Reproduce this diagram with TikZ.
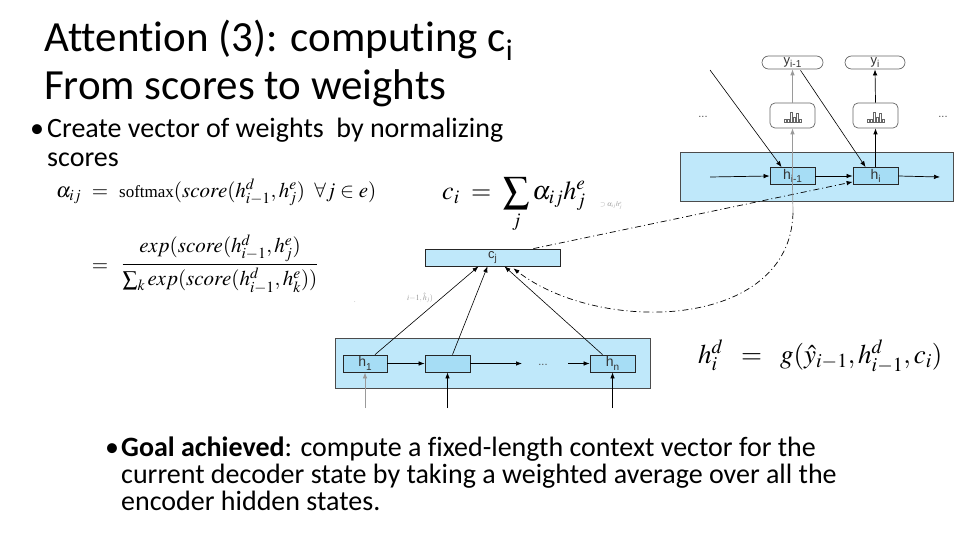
\documentclass[tikz,border=0pt]{standalone}
\usepackage{mathptmx}
\usepackage[no-math]{fontspec}
\setmainfont{Carlito}[Ligatures=NoCommon]
\newfontfamily\diagfont{Liberation Sans}
\newfontfamily\timesfont{Liberation Serif}
\usetikzlibrary{arrows.meta,calc}
\definecolor{bandfill}{HTML}{BFE8FA}
\definecolor{boxfill}{HTML}{A6DDF5}
\definecolor{lgray}{HTML}{9A9A9A}
\newcommand{\dsub}[1]{\raisebox{-3.5pt}{\fontsize{10}{10}\selectfont #1}}
\tikzset{
  txt/.style={inner sep=0pt, anchor=base west},
  title/.style={txt, font=\fontsize{43}{43}\selectfont},
  bul/.style={txt, font=\fontsize{28}{28}\selectfont},
  band/.style={draw=black!70, fill=bandfill, line width=0.6pt, inner sep=0pt},
  hbox/.style={draw=black!85, fill=boxfill, line width=0.8pt, inner sep=0pt, minimum height=17pt, font=\diagfont\fontsize{14}{14}\selectfont, text=black!80},
  smx/.style={draw=black!60, fill=white, rounded corners=5pt, line width=0.7pt, minimum width=45pt, minimum height=25pt, inner sep=0pt},
  ybox/.style={draw=black!60, fill=white, rounded corners=6.5pt, line width=0.7pt, minimum height=13pt, inner sep=0pt, font=\diagfont\fontsize{13}{13}\selectfont, text=black!80},
  arr/.style={-{Latex[length=6pt,width=4.5pt]}, line width=0.7pt},
  garr/.style={arr, draw=lgray},
  dashdot/.style={line width=0.7pt, dash pattern=on 6pt off 3pt on 1pt off 3pt},
  eqn/.style={inner sep=0pt},
  dots/.style={inner sep=0pt, font=\diagfont\fontsize{11}{11}\selectfont, text=black!70}
}
\begin{document}
\begin{tikzpicture}[x=1pt,y=-1pt]
\useasboundingbox (0,0) rectangle (960,540);

% ---- titles and bullets ----
\node[title] (t1) at (44,52) {Attention (3): computing c\raisebox{-9pt}{\fontsize{30}{30}\selectfont i}};
\node[title] (t2) at (44,100) {From scores to weights};
\node[bul] (bd1) at (30,138) {•};
\node[bul] (b1a) at (47,138) {Create vector of weights\ \ by normalizing};
\node[bul] (b1b) at (47,167) {scores};

\node[bul] (bd2) at (105,456) {•};
\node[bul] (b2a) at (121,456) {\textbf{Goal achieved}: compute a fixed-length context vector for the};
\node[bul] (b2b) at (121,483) {current decoder state by taking a weighted average over all the};
\node[bul] (b2c) at (121,510) {encoder hidden states.};

% ---- formulas ----
\node[eqn, anchor=base west] (alpha) at (56,197) {\fontsize{21}{21}\selectfont$\alpha_{ij}$};
\node[eqn, anchor=base] (eq1) at (100,197) {\fontsize{21}{21}\selectfont$=$};
\node[eqn, anchor=base west] (rhs1) at (119,197) {\fontsize{21}{21}\selectfont$\mbox{\timesfont\fontsize{17}{17}\selectfont softmax}(score(h^d_{i-1},h^e_j)\;\;\forall j\in e)$};
\node[eqn, anchor=base] (eq2) at (100,271) {\fontsize{21}{21}\selectfont$=$};
\node[eqn] (frac) at (220,264) {\fontsize{21}{21}\selectfont$\displaystyle\frac{exp(score(h^d_{i-1},h^e_j)}{\sum_k exp(score(h^d_{i-1},h^e_k))}$};

\node[eqn, anchor=west] (cieq) at (442,205) {\fontsize{26}{26}\selectfont$\displaystyle c_i\;=\;\sum_j\alpha_{ij}h^e_j$};
\node[eqn, anchor=west, text=lgray] (rem1) at (600,206) {\fontsize{7}{7}\selectfont$\supset\alpha_{ij}h^e_j$};

\node[eqn, anchor=base west] (hdeq) at (698,363) {\fontsize{27}{27}\selectfont$h^d_i\;\;=\;\;g(\hat{y}_{i-1},h^d_{i-1},c_i)$};

% ---- decoder ----
\node[band, minimum width=273pt, minimum height=49pt] (dec) at (816.5,176.5) {};
\node[hbox, minimum width=45pt] (hprev) at (792.5,176) {h\dsub{i-1}};
\node[hbox, minimum width=45pt] (hcur) at (875.5,176) {h\dsub{i}};
\node[smx] (s1) at (792.5,115.5) {};
\node[smx] (s2) at (875.5,115.5) {};
\node[ybox, minimum width=61pt] (y1) at (792.5,62.5) {y\dsub{i-1}};
\node[ybox, minimum width=60pt] (y2) at (875,62.5) {y\dsub{i}};
\foreach \s in {s1,s2}{
  \foreach \dx/\h in {-8/3,-5/3,-2/10,1/5,4/9,7/3}{
    \draw[black!60, line width=0.4pt] ($(\s.center)+(\dx,7)$) rectangle ++(2,-\h);
  }
}
\node[dots] (dl) at (703,117) {...};
\node[dots] (dr) at (943,117) {...};
\coordinate (din) at (710,177);
\coordinate (dout) at (940,177);
\draw[arr] (din) -- (hprev.west);
\draw[arr] (hprev.east) -- (hcur.west);
\draw[arr] (hcur.east) -- (dout);
\draw[garr] (hprev.north) -- (s1.south);
\draw[garr] (s1.north) -- (y1.south);
\draw[arr] (hcur.north) -- (s2.south);
\draw[arr] (s2.north) -- (y2.south);
\draw[lgray, line width=0.7pt] (hprev.north) -- (hprev.south);
\coordinate (ctop) at (710,70);
\draw[arr, line width=0.6pt] (ctop) -- ($(hprev.north west)+(12,0)$);
\draw[arr, line width=0.6pt] ($(y1.south)+(8,1)$) -- ($(hcur.north west)+(13,0)$);

% ---- encoder ----
\node[band, minimum width=315pt, minimum height=50pt] (enc) at (492.5,363) {};
\node[hbox, minimum width=44pt] (e1) at (365,363.5) {h\dsub{1}};
\node[hbox, minimum width=45pt] (e2) at (447.5,363.5) {};
\node[hbox, minimum width=45pt] (en) at (612.5,363.5) {h\dsub{n}};
\node[dots] (ed) at (543,365) {...};
\coordinate (ea) at (522,363.5);
\coordinate (eb) at (568,363.5);
\draw[arr] (e1.east) -- (e2.west);
\draw[arr] (e2.east) -- (ea);
\draw[arr] (eb) -- (en.west);
\coordinate (i1) at (365,408);
\coordinate (i2) at (447.5,408);
\coordinate (i3) at (612.5,408);
\draw[garr] (i1) -- (e1.south);
\draw[arr] (i2) -- (e2.south);
\draw[arr] (i3) -- (en.south);

% ---- context vector ----
\node[hbox, fill=bandfill, minimum width=135pt, font=\diagfont\fontsize{13}{13}\selectfont] (cj) at (492.5,257.5) {c\dsub{j}};
\draw[arr, line width=0.6pt] ($(e1.north)+(10,0)$) -- ($(cj.south)+(-14,0)$);
\draw[arr, line width=0.6pt] ($(e2.north)+(5,0)$) -- ($(cj.south)+(-5,0)$);
\draw[arr, line width=0.6pt] ($(en.north)+(-10,0)$) -- ($(cj.south)+(12,0)$);

\draw[dashdot, -{Latex[length=6pt,width=4.5pt]}] ($(cj.north east)+(-27,0)$) -- ($(hcur.south west)+(0,-3)$);
\coordinate (cs) at (793,213);
\draw[lgray, line width=0.7pt] (hprev.south) -- (cs);
\draw[dashdot, -{Latex[length=6pt,width=4.5pt]}] (cs) .. controls (790,330) and (600,335) .. ($(cj.south east)+(-47,2)$);

% ---- remnants ----
\node[eqn, text=lgray, anchor=west] (rem2) at (407,298) {\fontsize{8}{8}\selectfont$i{-}1,\hat{h}_j)$};
\node[eqn, text=lgray] (rem3) at (355,302) {\fontsize{6}{6}\selectfont.};
\end{tikzpicture}
\end{document}
